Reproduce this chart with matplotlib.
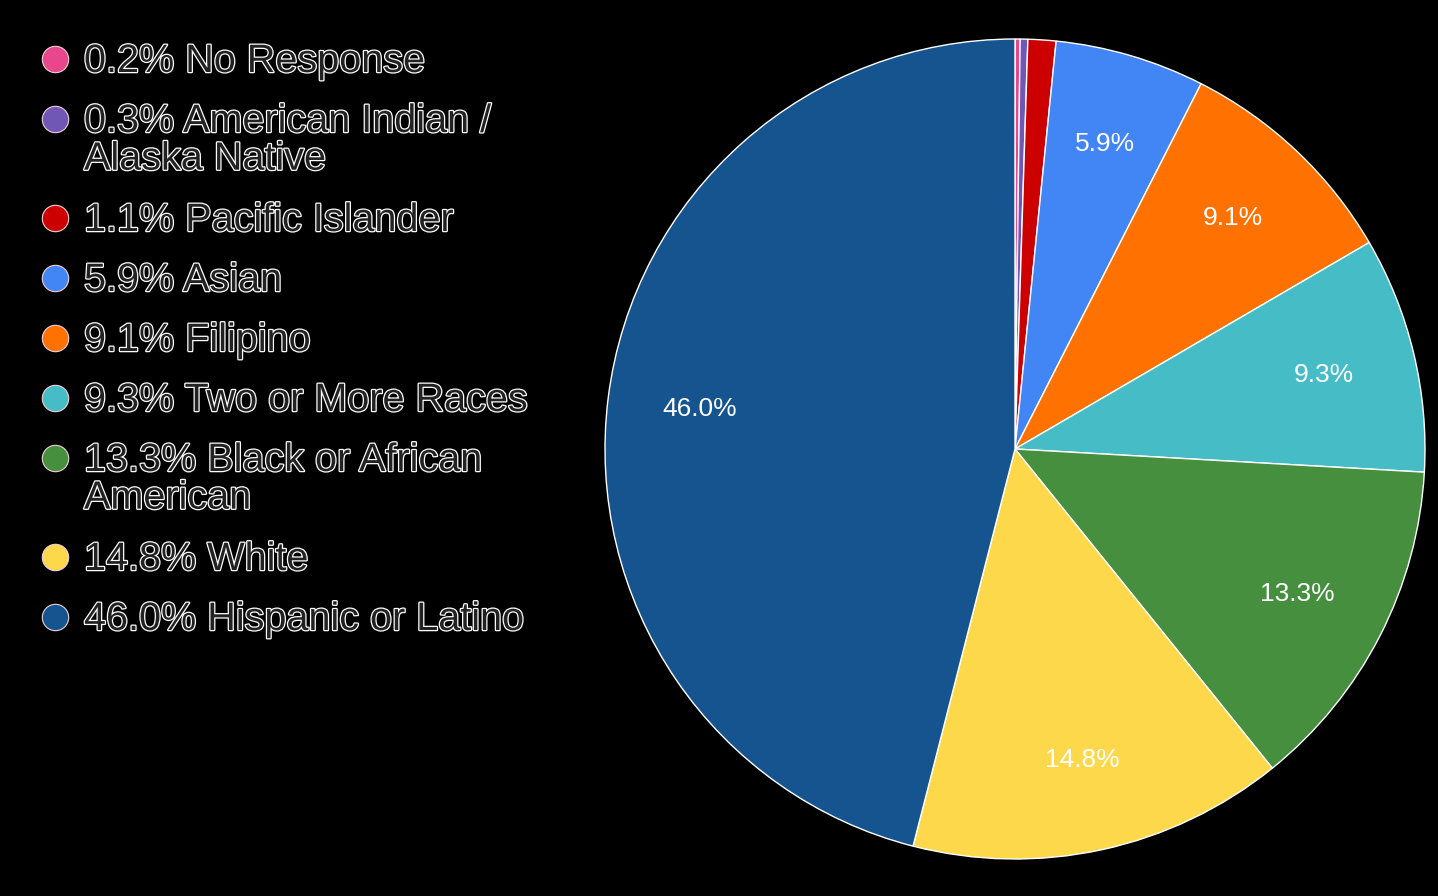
import matplotlib.pyplot as plt
import matplotlib.patheffects as pe

# Slices in drawing order, clockwise from the top
labels = ['No Response', 'American Indian /\nAlaska Native', 'Pacific Islander', 'Asian',
          'Filipino', 'Two or More Races', 'Black or African\nAmerican', 'White',
          'Hispanic or Latino']
values = [0.2, 0.3, 1.1, 5.9, 9.1, 9.3, 13.3, 14.8, 46.0]
colors = ['#e8478d', '#7056b5', '#cc0000', '#4285f4', '#ff7100',
          '#46bdc6', '#458f3e', '#fdd84b', '#15548f']

plt.rcParams['font.family'] = ['Liberation Sans', 'DejaVu Sans']

fig = plt.figure(figsize=(14.38, 8.96), dpi=100, facecolor='black')
W, H = 1438, 896

# pie: center ~ (1015, 449), radius ~ 410 px
cx, cy, r = 1015, 449, 410
ax = fig.add_axes([(cx - r) / W, 1 - (cy + r) / H, 2 * r / W, 2 * r / H])
ax.set_facecolor('black')
wedges, texts = ax.pie(values, colors=colors, startangle=90, counterclock=False,
                       wedgeprops=dict(edgecolor='white', linewidth=1),
                       labels=[f'{v:.1f}%' if v >= 5 else '' for v in values],
                       labeldistance=0.775, textprops=dict(color='white', fontsize=19))
for t in texts:
    t.set_horizontalalignment('center')
    t.set_verticalalignment('center')
ax.set_xlim(-1, 1)
ax.set_ylim(-1, 1)
ax.set_aspect('equal')
ax.axis('off')

# legend drawn by hand
y = 59
for lab, v, c in zip(labels, values, colors):
    fig.lines.append(plt.Line2D([55 / W], [1 - y / H], marker='o', markersize=19,
                                markerfacecolor=c, markeredgecolor='#f0d0d8',
                                markeredgewidth=0.8, transform=fig.transFigure))
    txt = fig.text(84 / W, 1 - (y - 17) / H, f'{v:.1f}% {lab}', color='#222222',
                   fontsize=28.5, va='top', ha='left', linespacing=0.99,
                   transform=fig.transFigure)
    txt.set_path_effects([pe.withStroke(linewidth=1.8, foreground='white')])
    y += 60 + 39 * lab.count('\n')

fig.savefig('out.png', dpi=100, facecolor='black')
